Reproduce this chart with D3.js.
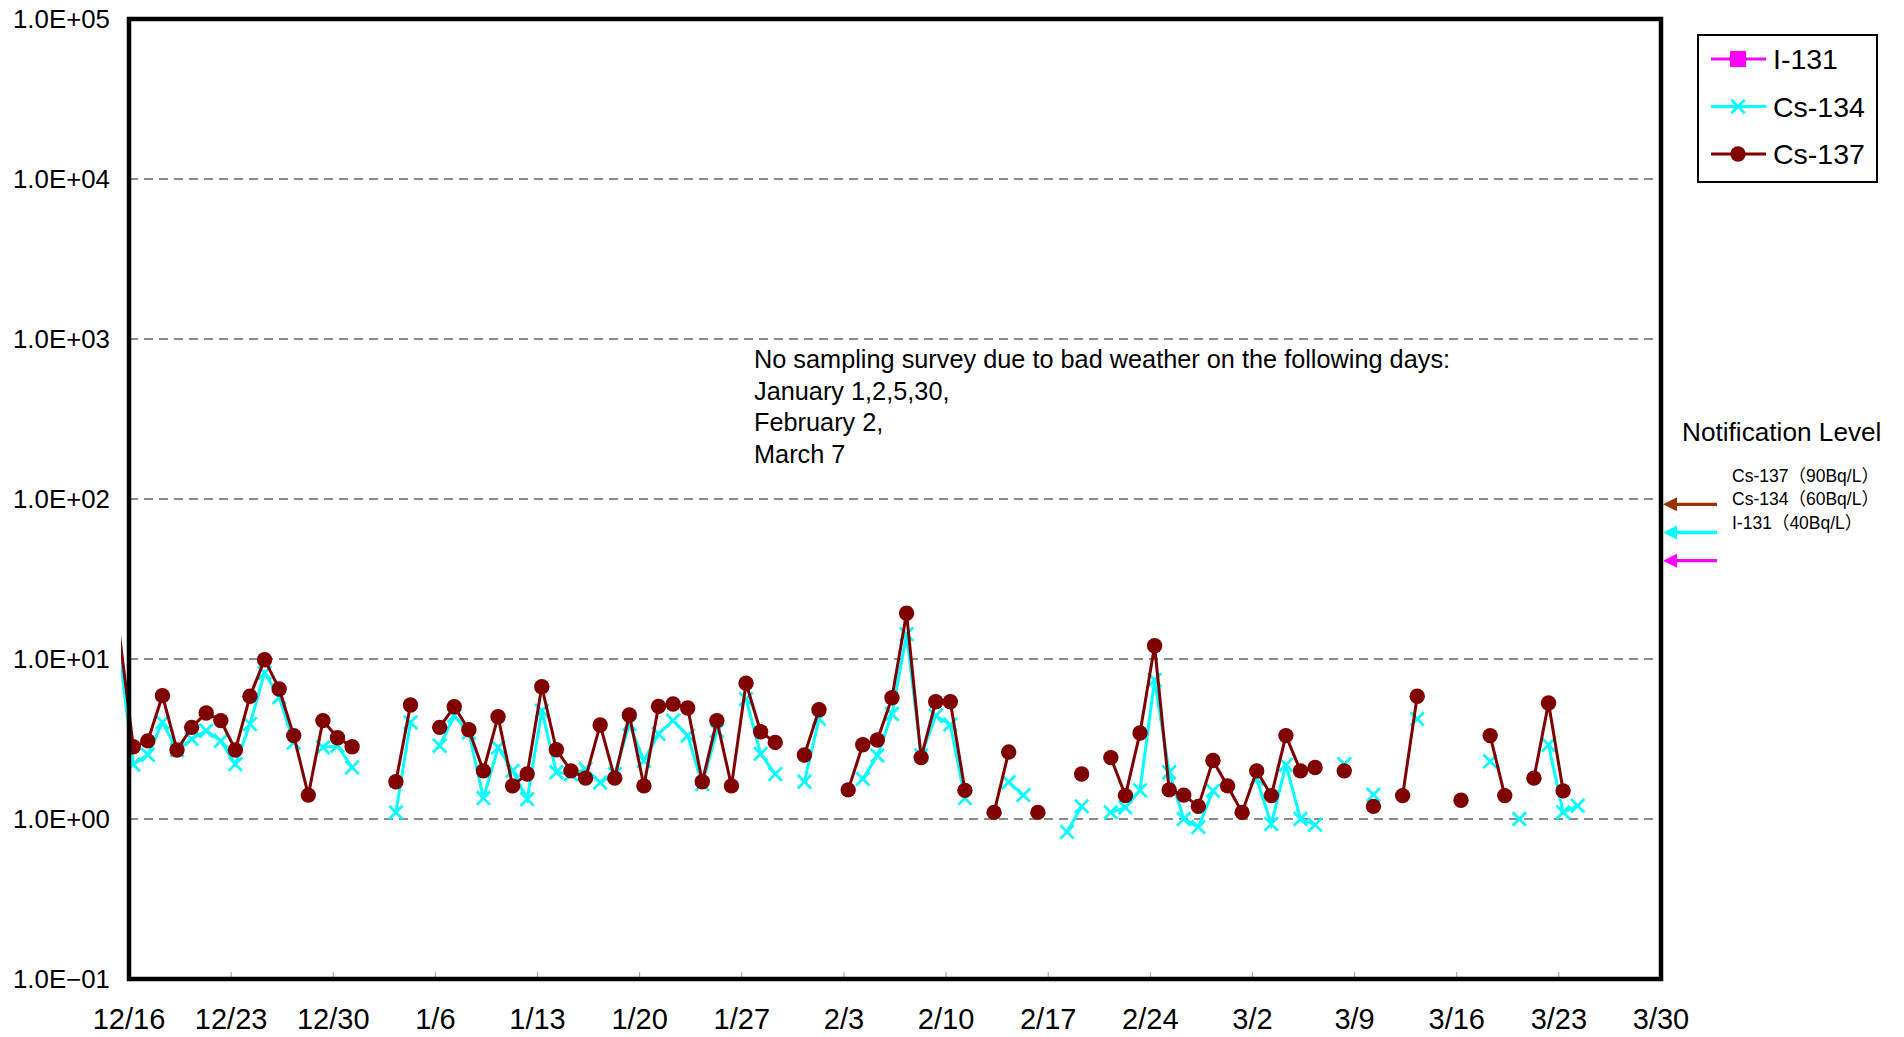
<!DOCTYPE html>
<html><head><meta charset="utf-8">
<script src="https://cdn.jsdelivr.net/npm/d3@7"></script>
<style>
html,body{margin:0;padding:0;background:#fff;}
svg{display:block;}
text{font-family:"Liberation Sans",Arial,"Noto Sans CJK JP",sans-serif;fill:#000;}
</style></head><body>
<svg id="chart" width="1904" height="1037"></svg>
<script>
// ---- data (Bq/L), one entry per sampling day; null = not detected / no sampling
const dates = [
 "12/15","12/16","12/17","12/18","12/19","12/20","12/21","12/22","12/23","12/24","12/25","12/26","12/27","12/28","12/29","12/30","12/31",
 "1/1","1/2","1/3","1/4","1/5","1/6","1/7","1/8","1/9","1/10","1/11","1/12","1/13","1/14","1/15","1/16","1/17","1/18","1/19","1/20",
 "1/21","1/22","1/23","1/24","1/25","1/26","1/27","1/28","1/29","1/30","1/31",
 "2/1","2/2","2/3","2/4","2/5","2/6","2/7","2/8","2/9","2/10","2/11","2/12","2/13","2/14","2/15","2/16","2/17","2/18","2/19","2/20",
 "2/21","2/22","2/23","2/24","2/25","2/26","2/27","2/28","2/29",
 "3/1","3/2","3/3","3/4","3/5","3/6","3/7","3/8","3/9","3/10","3/11","3/12","3/13","3/14","3/15","3/16","3/17","3/18","3/19","3/20",
 "3/21","3/22","3/23","3/24"
];
const cs137 = [
 15.6,2.83,3.08,5.9,2.7,3.74,4.6,4.12,2.7,5.85,9.9,6.5,3.32,1.41,4.12,3.22,2.83,
 null,null,1.71,5.16,null,3.74,5.03,3.61,2.0,4.36,1.61,1.91,6.71,2.71,2.0,1.8,3.87,1.8,4.47,1.61,
 5.06,5.23,4.94,1.71,4.12,1.61,7.05,3.51,3.01,null,2.51,
 4.82,null,1.52,2.91,3.12,5.73,19.3,2.42,5.41,5.41,1.51,null,1.1,2.62,null,1.1,null,null,1.91,null,
 2.42,1.4,3.45,12.1,1.52,1.41,1.2,2.32,1.61,
 1.1,2.0,1.4,3.32,2.0,2.1,null,2.0,null,1.2,null,1.4,5.85,null,null,1.31,null,3.32,1.4,null,
 1.8,5.31,1.5,null
];
const cs134 = [
 12.2,2.19,2.52,4.02,2.7,3.16,3.56,3.08,2.2,3.92,8.2,5.76,3.0,null,2.8,2.87,2.1,
 null,null,1.1,4.02,null,2.87,4.42,3.47,1.35,2.8,2.0,1.33,4.75,1.96,1.9,2.05,1.69,1.91,3.92,2.31,
 3.4,4.12,3.32,1.65,3.56,null,5.62,2.55,1.91,null,1.71,
 4.22,null,null,1.78,2.49,4.53,14.3,2.5,4.42,3.89,1.35,null,null,1.7,1.41,null,null,0.83,1.2,null,
 1.1,1.18,1.51,7.39,1.96,1.0,0.89,1.5,null,
 null,1.78,0.93,2.18,1.0,0.92,null,2.2,null,1.42,null,null,4.22,null,null,null,null,2.29,null,1.0,
 null,2.91,1.1,1.21
];
const i131 = []; // not detected on any day
const yTickValues = [0.1, 1, 10, 100, 1000, 10000, 100000];
const yTickLabels = ["1.0E\u221201","1.0E+00","1.0E+01","1.0E+02","1.0E+03","1.0E+04","1.0E+05"];
const xTickLabels = ["12/16","12/23","12/30","1/6","1/13","1/20","1/27","2/3","2/10","2/17","2/24","3/2","3/9","3/16","3/23","3/30"];
const levelNames = ["Cs-137", "Cs-134", "I-131"];
const levelValues = [90, 60, 40];
const levelLabels = ["Cs-137\uFF0890Bq/L\uFF09","Cs-134\uFF0860Bq/L\uFF09","I-131\uFF0840Bq/L\uFF09"];
const noteLines = ["No sampling survey due to bad weather on the following days:","January 1,2,5,30,","February 2,","March 7"];
const SAMPLE_HOUR = 7;

// ---- layout
const L = 129, R = 1661, T = 19, B = 979;
const parseDate = (s, h) => { const [mo, d] = s.split("/").map(Number); return new Date(mo === 12 ? 2011 : 2012, mo - 1, d, h || 0); };
const x = d3.scaleTime().domain([parseDate("12/16"), parseDate("3/30")]).range([L, R]);
const y = d3.scaleLog().domain([0.1, 1e5]).range([B, T]);

const svg = d3.select("#chart");
const defs = svg.append("defs");
defs.append("clipPath").attr("id","clipLine").append("rect").attr("x",121).attr("y",T).attr("width",R-121).attr("height",B-T);
defs.append("clipPath").attr("id","clipPlot").append("rect").attr("x",L).attr("y",T).attr("width",R-L).attr("height",B-T);

// grid
const grid = svg.append("g");
yTickValues.slice(1, -1).forEach(v => {
  grid.append("line").attr("x1", L).attr("x2", R).attr("y1", y(v)).attr("y2", y(v))
    .attr("stroke", "#666").attr("stroke-width", 1.4).attr("stroke-dasharray", "9,6");
});
// x ticks (inside, bottom)
xTickLabels.forEach(s => {
  const px = x(parseDate(s));
  svg.append("line").attr("x1", px).attr("x2", px).attr("y1", B).attr("y2", B - 7).attr("stroke", "#999").attr("stroke-width", 1);
});

// series
const mk = arr => dates.map((d, i) => ({ t: parseDate(d, SAMPLE_HOUR), v: arr[i] }));
const d137 = mk(cs137), d134 = mk(cs134);
const line = d3.line().defined(d => d.v != null).x(d => x(d.t)).y(d => y(d.v));

const s134 = svg.append("g");
s134.append("path").datum(d134).attr("d", line).attr("fill", "none").attr("stroke", "#00ffff").attr("stroke-width", 3).attr("clip-path", "url(#clipLine)");
const xs = 6.7;
s134.append("g").attr("clip-path", "url(#clipPlot)").selectAll("path").data(d134.filter(d => d.v != null)).join("path")
  .attr("d", d => { const cx = x(d.t), cy = y(d.v); return `M${cx-xs},${cy-xs}L${cx+xs},${cy+xs}M${cx-xs},${cy+xs}L${cx+xs},${cy-xs}`; })
  .attr("stroke", "#00ffff").attr("stroke-width", 2.7).attr("fill", "none");

const s137 = svg.append("g");
s137.append("path").datum(d137).attr("d", line).attr("fill", "none").attr("stroke", "#800000").attr("stroke-width", 3).attr("clip-path", "url(#clipLine)");
s137.append("g").attr("clip-path", "url(#clipPlot)").selectAll("circle").data(d137.filter(d => d.v != null)).join("circle")
  .attr("cx", d => x(d.t)).attr("cy", d => y(d.v)).attr("r", 7.7).attr("fill", "#800000");

// border
svg.append("rect").attr("x", L).attr("y", T).attr("width", R - L).attr("height", B - T)
  .attr("fill", "none").attr("stroke", "#000").attr("stroke-width", 4.5);

// y labels
yTickValues.forEach((v, i) => {
  svg.append("text").attr("x", 110).attr("y", y(v) + 9).attr("text-anchor", "end")
    .attr("font-size", 25).attr("textLength", 97).attr("lengthAdjust", "spacingAndGlyphs").text(yTickLabels[i]);
});
// x labels
xTickLabels.forEach(s => {
  svg.append("text").attr("x", x(parseDate(s))).attr("y", 1029).attr("text-anchor", "middle")
    .attr("font-size", 29).text(s);
});

// note
noteLines.forEach((t, i) => {
  svg.append("text").attr("x", 754).attr("y", 368 + i * 31.6).attr("font-size", 25.3).text(t);
});

// legend
const lg = svg.append("g");
lg.append("rect").attr("x", 1698).attr("y", 35).attr("width", 179).attr("height", 147).attr("fill", "#fff").attr("stroke", "#000").attr("stroke-width", 2);
const legendNames = ["I-131", "Cs-134", "Cs-137"];
const legendColors = ["#ff00ff", "#00ffff", "#800000"];
legendNames.forEach((n, i) => {
  const ly = 59 + i * 47.5;
  lg.append("line").attr("x1", 1711).attr("x2", 1766).attr("y1", ly).attr("y2", ly).attr("stroke", legendColors[i]).attr("stroke-width", 3);
  if (i === 0) lg.append("rect").attr("x", 1730).attr("y", ly - 8).attr("width", 16).attr("height", 16).attr("fill", legendColors[i]);
  if (i === 1) lg.append("path").attr("d", `M${1738-xs},${ly-xs}L${1738+xs},${ly+xs}M${1738-xs},${ly+xs}L${1738+xs},${ly-xs}`).attr("stroke", legendColors[i]).attr("stroke-width", 2.7);
  if (i === 2) lg.append("circle").attr("cx", 1738).attr("cy", ly).attr("r", 7.7).attr("fill", legendColors[i]);
  lg.append("text").attr("x", 1773).attr("y", ly + 10).attr("font-size", 28.5).text(n);
});

// notification level
svg.append("text").attr("x", 1682).attr("y", 441).attr("font-size", 26.2).text("Notification Level");
levelLabels.forEach((t, i) => {
  svg.append("text").attr("x", 1732).attr("y", 482 + i * 23.3).attr("font-size", 17.5).text(t);
});
const arrowColors = ["#993300", "#00ffff", "#ff00ff"];
levelValues.forEach((v, i) => {
  const ay = y(v) - 2;
  svg.append("line").attr("x1", 1675).attr("x2", 1717).attr("y1", ay).attr("y2", ay).attr("stroke", arrowColors[i]).attr("stroke-width", 3.3);
  svg.append("path").attr("d", `M1663,${ay}L1677,${ay-7}L1677,${ay+7}Z`).attr("fill", arrowColors[i]);
});
</script>
</body></html>
